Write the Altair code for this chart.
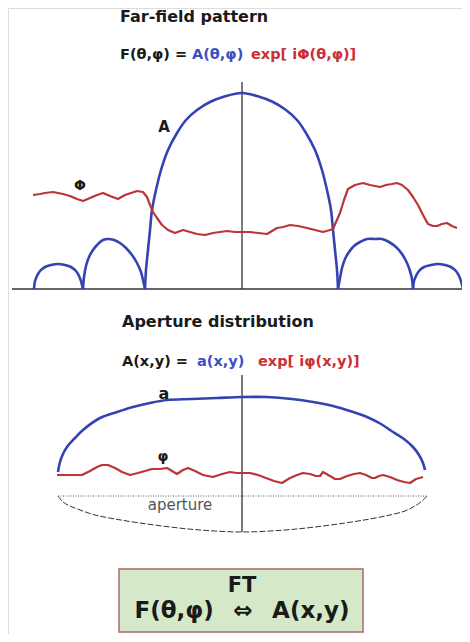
import altair as alt
import pandas as pd

# ---------------- data (diagram coordinates, x right, y down) ----------------
# Far-field amplitude A(theta, phi): main lobe + side lobes
main_lobe_x = [145, 146, 148, 150, 152, 156, 161, 168, 177, 186, 197, 210, 226, 242,
               257, 273, 286, 297, 306, 315, 322, 327, 331, 333, 335, 337, 338]
main_lobe_y = [289, 270, 250, 230, 210, 190, 170, 150, 133, 120, 110, 102, 96, 93,
               96, 102, 110, 120, 133, 150, 170, 190, 210, 230, 250, 270, 289]
side_l_outer_x = [34, 35, 37, 40, 45, 51, 58, 65, 71, 76, 79, 81, 83]
side_l_outer_y = [289, 281, 276, 271, 267, 265, 264, 265, 267, 271, 276, 281, 289]
side_l_inner_x = [83, 84, 86, 89, 93, 98, 103, 108, 114, 120, 126, 132, 137, 141, 143, 145]
side_l_inner_y = [289, 277, 266, 257, 250, 244, 240, 239, 240, 243, 248, 255, 263, 272, 280, 289]
side_r_inner_x = [338, 340, 342, 345, 349, 354, 360, 367, 375, 382, 389, 396, 402, 407, 410, 412, 413]
side_r_inner_y = [289, 278, 268, 259, 252, 246, 242, 239, 239, 239, 242, 247, 254, 263, 271, 279, 289]
side_r_outer_x = [413, 414, 416, 419, 424, 431, 438, 445, 451, 456, 459, 461, 463]
side_r_outer_y = [289, 281, 276, 271, 267, 265, 264, 265, 267, 271, 276, 281, 289]

# Far-field phase Phi
phase_ff_x = [33, 40, 45, 53, 58, 63, 70, 77, 83, 90, 97, 103, 110, 118, 125, 131, 137, 143,
              147, 150, 153, 157, 162, 168, 175, 183, 190, 197, 205, 213, 220, 227, 235, 242,
              250, 258, 267, 272, 277, 283, 290, 298, 307, 315, 323, 330, 333, 336, 340, 344,
              348, 355, 363, 370, 375, 380, 386, 392, 397, 402, 408, 413, 418, 423, 428, 433,
              437, 442, 447, 452, 457]
phase_ff_y = [195, 194, 193, 192, 193, 194, 196, 199, 201, 198, 195, 193, 196, 199, 195, 193, 191, 192,
              197, 205, 212, 218, 225, 230, 233, 230, 232, 234, 235, 233, 232, 231, 232, 232,
              232, 233, 234, 231, 228, 227, 225, 226, 228, 230, 232, 230, 229, 222, 213, 200,
              189, 185, 183, 185, 186, 187, 185, 184, 183, 185, 190, 197, 205, 215, 224, 226,
              226, 224, 223, 226, 228]

# Aperture amplitude a(x, y)
aper_amp_x = [58, 60, 63, 67, 75, 83, 100, 117, 133, 150, 167, 192, 217, 242,
              267, 292, 313, 333, 350, 367, 381, 393, 404, 413, 419, 423, 425]
aper_amp_y = [472, 462, 454, 447, 438, 430, 418, 412, 407, 403, 400, 399, 398, 397,
              397, 399, 402, 406, 411, 417, 424, 432, 439, 447, 455, 463, 470]

# Aperture phase phi
aper_ph_x = [57, 65, 75, 82, 90, 97, 102, 108, 115, 122, 130, 138, 145, 152, 160, 167, 172, 177,
             183, 188, 195, 203, 213, 222, 230, 237, 242, 250, 258, 266, 274, 282, 290, 297,
             303, 310, 316, 320, 323, 330, 335, 340, 347, 354, 360, 366, 372, 375, 379, 383,
             390, 397, 404, 410, 416, 423]
aper_ph_y = [475, 475, 475, 475, 471, 467, 465, 465, 468, 472, 475, 473, 471, 469, 469, 468, 471, 474,
             470, 468, 471, 475, 477, 474, 472, 473, 473, 473, 475, 478, 481, 483, 478, 475,
             473, 474, 476, 476, 472, 476, 479, 479, 476, 474, 473, 475, 478, 478, 476, 475,
             477, 480, 482, 483, 479, 477]

# aperture outline (dashed lower arc)
aper_arc_x = [58, 63, 70, 80, 95, 115, 140, 170, 200, 242, 285, 315, 345, 370, 390, 405, 415, 422, 427]
aper_arc_y = [496, 502, 506, 510, 515, 519, 523, 527, 530, 532, 530, 527, 523, 519, 515, 511, 506, 501, 496]

# straight guide lines
vline_x = [242, 242]
vline_top = [82, 375]
vline_bot = [289, 532]
baseline_x = [12, 468]
baseline_y = [289]
dotted_x = [58, 427]
dotted_y = [496]

# box
box_x = [119, 363]
box_y = [569, 632]

# texts
BLUE_T = "#3b4fc4"
RED_T = "#cc2f35"
bold_left_text = ["Far-field pattern", "F(θ,φ) =", "A(θ,φ)", "exp[ iΦ(θ,φ)]",
                  "Aperture distribution", "A(x,y) =", "a(x,y)", "exp[ iφ(x,y)]"]
bold_left_x = [120, 120, 192, 251, 122, 122, 197, 258]
bold_left_y = [17, 55, 55, 55, 322, 362, 362, 362]
bold_left_size = [16, 14.5, 14.5, 14.5, 16, 14.5, 14.5, 14.5]
bold_left_color = ["#1a1a1a", "#1a1a1a", BLUE_T, RED_T, "#1a1a1a", "#1a1a1a", BLUE_T, RED_T]

bold_center_text = ["A", "Φ", "a", "φ", "FT", "F(θ,φ)\u2002 ⇔ \u2002A(x,y)"]
bold_center_x = [164, 80, 164, 163, 242, 242]
bold_center_y = [127, 186, 394, 457, 586, 611]
bold_center_size = [15, 14, 16, 14, 21, 23]

normal_text = ["aperture"]
normal_x = [180]
normal_y = [505]

# ---------------- build ----------------
BLUE = "#3343b3"
RED = "#bd3437"

xs = alt.Scale(domain=[8, 462], nice=False, zero=False)
ys = alt.Scale(domain=[8, 634], nice=False, zero=False, reverse=True)
X = lambda f="x": alt.X(f"{f}:Q", scale=xs, axis=None)
Y = lambda f="y": alt.Y(f"{f}:Q", scale=ys, axis=None)


def segs(pairs):
    rows = []
    for s, (xx, yy) in enumerate(pairs):
        for i, (a, b) in enumerate(zip(xx, yy)):
            rows.append({"x": a, "y": b, "seg": s, "ord": i})
    return pd.DataFrame(rows)


amp_df = segs([(side_l_outer_x, side_l_outer_y), (side_l_inner_x, side_l_inner_y),
               (main_lobe_x, main_lobe_y), (side_r_inner_x, side_r_inner_y),
               (side_r_outer_x, side_r_outer_y), (aper_amp_x, aper_amp_y)])
phase_df = segs([(phase_ff_x, phase_ff_y), (aper_ph_x, aper_ph_y)])
arc_df = segs([(aper_arc_x, aper_arc_y)])

box = alt.Chart(pd.DataFrame({"x": [box_x[0]], "x2": [box_x[1]], "y": [box_y[0]], "y2": [box_y[1]]})).mark_rect(
    fill="#d5e8c7", stroke="#a86a6a", strokeWidth=1.5
).encode(x=X(), x2="x2:Q", y=Y(), y2="y2:Q")

vlines = alt.Chart(pd.DataFrame({"x": vline_x, "y": vline_top, "y2": vline_bot})).mark_rule(
    color="#222222", strokeWidth=1.2
).encode(x=X(), y=Y(), y2="y2:Q")

base = alt.Chart(pd.DataFrame({"x": [baseline_x[0]], "x2": [baseline_x[1]], "y": baseline_y})).mark_rule(
    color="#333333", strokeWidth=1.5
).encode(x=X(), x2="x2:Q", y=Y())

dotted = alt.Chart(pd.DataFrame({"x": [dotted_x[0]], "x2": [dotted_x[1]], "y": dotted_y})).mark_rule(
    color="#555555", strokeWidth=1, strokeDash=[1, 1.5]
).encode(x=X(), x2="x2:Q", y=Y())

arc = alt.Chart(arc_df).mark_line(color="#333333", strokeWidth=1, strokeDash=[6, 2],
                                  interpolate="catmull-rom").encode(
    x=X(), y=Y(), detail="seg:N", order="ord:Q")

amp = alt.Chart(amp_df).mark_line(color=BLUE, strokeWidth=2.6, interpolate="catmull-rom").encode(
    x=X(), y=Y(), detail="seg:N", order="ord:Q")

phase = alt.Chart(phase_df).mark_line(color=RED, strokeWidth=2.2, interpolate="linear",
                                      strokeJoin="round").encode(
    x=X(), y=Y(), detail="seg:N", order="ord:Q")

t_left = alt.Chart(pd.DataFrame({"t": bold_left_text, "x": bold_left_x, "y": bold_left_y,
                                 "s": bold_left_size, "c": bold_left_color})).mark_text(
    font="DejaVu Sans", fontWeight="bold", align="left", baseline="middle"
).encode(x=X(), y=Y(), text="t:N", size=alt.Size("s:Q", scale=None),
         color=alt.Color("c:N", scale=None))

t_center = alt.Chart(pd.DataFrame({"t": bold_center_text, "x": bold_center_x, "y": bold_center_y,
                                   "s": bold_center_size})).mark_text(
    font="DejaVu Sans", fontWeight="bold", align="center", baseline="middle", color="#1a1a1a"
).encode(x=X(), y=Y(), text="t:N", size=alt.Size("s:Q", scale=None))

t_normal = alt.Chart(pd.DataFrame({"t": normal_text, "x": normal_x, "y": normal_y})).mark_text(
    font="DejaVu Sans", align="center", baseline="middle", color="#555555", fontSize=15
).encode(x=X(), y=Y(), text="t:N")

chart = alt.layer(box, dotted, arc, vlines, base, amp, phase, t_left, t_center, t_normal).properties(
    width=454, height=626, padding=0, autosize=alt.AutoSizeParams(type="none")
).configure_view(stroke="transparent", strokeWidth=0).configure(background="white")

chart.save("out.html", embed_options={"renderer": "svg", "actions": False})
